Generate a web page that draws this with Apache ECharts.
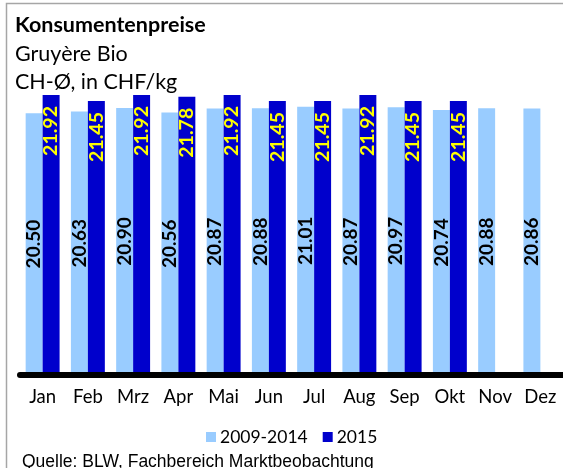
<!DOCTYPE html>
<html>
<head>
<meta charset="utf-8">
<script src="https://cdn.jsdelivr.net/npm/echarts@6/dist/echarts.min.js"></script>
<style>
  html, body { margin: 0; padding: 0; background: #ffffff; }
  #chart { width: 563px; height: 468px; }
</style>
</head>
<body>
<div id="chart"></div>
<script>
// Monthly consumer prices, organic Gruyère (CHF/kg)
const months = ['Jan', 'Feb', 'Mrz', 'Apr', 'Mai', 'Jun', 'Jul', 'Aug', 'Sep', 'Okt', 'Nov', 'Dez'];
const avg2009to2014 = [20.50, 20.63, 20.90, 20.56, 20.87, 20.88, 21.01, 20.87, 20.97, 20.74, 20.88, 20.86];
const year2015 = [21.92, 21.45, 21.92, 21.78, 21.92, 21.45, 21.45, 21.92, 21.45, 21.45, null, null];
const seriesNames = ['2009-2014', '2015'];

const font = 'Lato, "Open Sans", sans-serif';
const chart = echarts.init(document.getElementById('chart'), null, { renderer: 'canvas' });

const fmt = p => (p.value == null ? '' : Number(p.value).toFixed(2));

chart.setOption({
  animation: false,
  backgroundColor: '#ffffff',
  graphic: [
    {
      type: 'rect',
      shape: { x: 6.5, y: 3.5, width: 700, height: 600 },
      style: { fill: null, stroke: '#a6a6a6', lineWidth: 1.5 },
      silent: true
    },
    {
      type: 'text',
      left: 15, top: 14,
      style: { text: 'Konsumentenpreise', font: 'bold 21.5px ' + font, fill: '#000000' }
    },
    {
      type: 'text',
      left: 15, top: 43,
      style: { text: 'Gruyère Bio', font: '21.5px ' + font, fill: '#000000' }
    },
    {
      type: 'text',
      left: 15, top: 71,
      style: { text: 'CH-Ø, in CHF/kg', font: '21.5px ' + font, fill: '#000000' }
    },
    {
      type: 'text',
      left: 22, top: 453,
      style: { text: 'Quelle: BLW, Fachbereich Marktbeobachtung', font: '17.5px "Liberation Sans", Arial, sans-serif', fill: '#000000' }
    }
  ],
  legend: {
    data: seriesNames,
    left: 201,
    top: 423,
    itemWidth: 10,
    itemHeight: 10,
    itemGap: 15,
    icon: 'rect',
    textStyle: { fontFamily: font, fontSize: 17.5, color: '#000000', padding: [0, 0, 0, -1] }
  },
  grid: { left: 20, top: 94, width: 547, height: 281, containLabel: false },
  xAxis: {
    type: 'category',
    data: months,
    z: 10,
    axisLine: { show: true, lineStyle: { color: '#000000', width: 6 } },
    axisTick: { show: false },
    axisLabel: { fontFamily: font, fontSize: 18.5, color: '#000000', margin: 13, interval: 0 }
  },
  yAxis: {
    type: 'value',
    min: 0,
    max: 22,
    show: false,
    splitLine: { show: false }
  },
  series: [
    {
      name: seriesNames[0],
      type: 'bar',
      data: avg2009to2014,
      barGap: '0%',
      barCategoryGap: '25%',
      itemStyle: { color: '#99ccff' },
      label: {
        show: true,
        position: 'inside',
        rotate: 90,
        formatter: fmt,
        fontFamily: font,
        fontWeight: 'bold',
        fontSize: 19,
        color: '#000000'
      }
    },
    {
      name: seriesNames[1],
      type: 'bar',
      data: year2015,
      itemStyle: { color: '#0000cc' },
      label: {
        show: true,
        position: 'insideTop',
        distance: 11,
        rotate: 90,
        align: 'right',
        verticalAlign: 'middle',
        formatter: fmt,
        fontFamily: font,
        fontWeight: 'bold',
        fontSize: 19.5,
        color: '#ffff00'
      }
    }
  ]
});
</script>
</body>
</html>
